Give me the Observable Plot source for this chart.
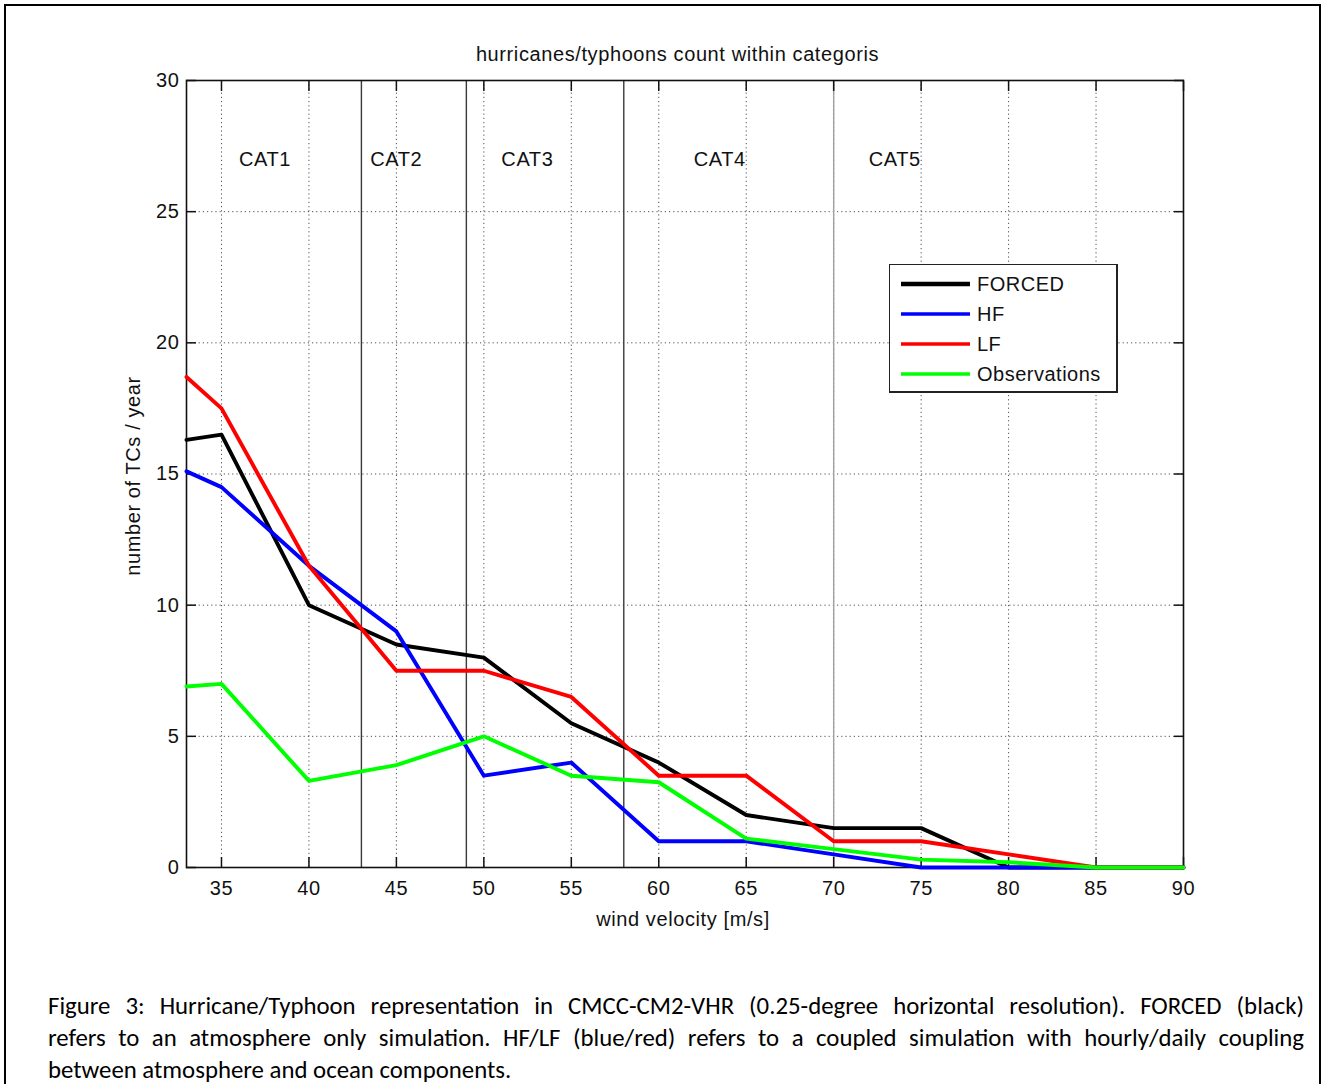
<!DOCTYPE html>
<html>
<head>
<meta charset="utf-8">
<script src="https://cdn.jsdelivr.net/npm/d3@7"></script>
<script src="https://cdn.jsdelivr.net/npm/@observablehq/plot@0.6"></script>
<style>
  html, body { margin: 0; padding: 0; background: #fff; }
  #page { position: relative; width: 1322px; height: 1084px; overflow: hidden; background: #fff; }
  #border { position: absolute; left: 4px; top: 4px; width: 1317px; height: 1100px; border: 2px solid #000; box-sizing: border-box; }
  #chart { position: absolute; left: 0; top: 0; }
  #title { position: absolute; left: 0; width: 1355px; top: 44px; text-align: center;
           font: 20px "Liberation Sans", Arial, sans-serif; letter-spacing: 0.6px; line-height: 20px; color: #111; }
  #legend { position: absolute; left: 889px; top: 264px; width: 229px; height: 129px; box-sizing: border-box;
            border: 1.5px solid #222; border-right-width: 2.5px; border-bottom-width: 2px; background: #fff;
            font: 20px "Liberation Sans", Arial, sans-serif; letter-spacing: 0.5px; color: #111; }
  .lrow { position: absolute; left: 11px; height: 30px; display: flex; align-items: center; }
  .lrow svg { margin-right: 7px; }
  #caption { position: absolute; left: 48px; top: 990px; width: 1256px;
             font: 24.8px Calibri, Carlito, Lato, sans-serif; color: #000; }
  .cline { height: 32px; line-height: 32px; text-align: justify; white-space: normal; }
  .cline.j { text-align-last: justify; }
</style>
</head>
<body>
<div id="page">
  <div id="border"></div>
  <div id="chart"></div>
  <div id="title"></div>
  <div id="legend"></div>
  <div id="caption"></div>
</div>
<script>
// ---- data ----
const windSpeed = [33, 35, 40, 45, 50, 55, 60, 65, 70, 75, 80, 85, 90];
const forced    = [16.3, 16.5, 10, 8.5, 8, 5.5, 4, 2, 1.5, 1.5, 0, 0, 0];
const hf        = [15.1, 14.5, 11.5, 9, 3.5, 4, 1, 1, 0.5, 0, 0, 0, 0];
const lf        = [18.7, 17.5, 11.5, 7.5, 7.5, 6.5, 3.5, 3.5, 1, 1, 0.5, 0, 0];
const observations = [6.9, 7, 3.3, 3.9, 5, 3.5, 3.25, 1.1, 0.7, 0.3, 0.2, 0, 0];

const seriesNames  = ["FORCED", "HF", "LF", "Observations"];
const seriesColors = ["#000000", "#0000ff", "#ff0000", "#00ff00"];

const xTicks = [35, 40, 45, 50, 55, 60, 65, 70, 75, 80, 85, 90];
const yTicks = [0, 5, 10, 15, 20, 25, 30];
const xDomain = [33, 90];
const yDomain = [0, 30];

const catBounds = [43, 49, 58, 70];
const catNames  = ["CAT1", "CAT2", "CAT3", "CAT4", "CAT5"];
const catTextX  = [36, 43.5, 51, 62, 72];
const catTextY  = 27;

const titleText  = "hurricanes/typhoons count within categoris";
const xLabelText = "wind velocity [m/s]";
const yLabelText = "number of TCs / year";
const captionLines = [
  "Figure 3: Hurricane/Typhoon representation in CMCC-CM2-VHR (0.25-degree horizontal resolution). FORCED (black)",
  "refers to an atmosphere only simulation. HF/LF (blue/red) refers to a coupled simulation with hourly/daily coupling",
  "between atmosphere and ocean components."
];

// ---- build tables ----
const allSeries = [forced, hf, lf, observations];
const rows = [];
allSeries.forEach((vals, s) => vals.forEach((v, i) => rows.push({series: seriesNames[s], x: windSpeed[i], y: v})));
const catLabels = catNames.map((n, i) => ({label: n, x: catTextX[i], y: catTextY}));

const colorOf = Object.fromEntries(seriesNames.map((n, i) => [n, seriesColors[i]]));

const chart = Plot.plot({
  width: 1322,
  height: 960,
  marginLeft: 186,
  marginRight: 139,
  marginTop: 80,
  marginBottom: 93,
  style: {fontFamily: "'Liberation Sans', Arial, sans-serif", fontSize: "20px", color: "#111", background: "transparent", letterSpacing: "0.6px"},
  x: {domain: xDomain, axis: null},
  y: {domain: yDomain, axis: null},
  marks: [
    Plot.gridX(xTicks, {stroke: "#333", strokeOpacity: 0.85, strokeDasharray: "1.2,3"}),
    Plot.gridY(yTicks, {stroke: "#333", strokeOpacity: 0.85, strokeDasharray: "1.2,3"}),
    Plot.ruleX(catBounds, {x: d => d, stroke: d => d === 70 ? "#a0a0a0" : "#3a3a3a", strokeWidth: 1.4}),
    Plot.frame({stroke: "#111", strokeWidth: 1.6}),
    // inward ticks on all four sides
    Plot.axisX(xTicks, {anchor: "bottom", tickSize: -10, tickFormat: () => "", label: null, strokeWidth: 1.5}),
    Plot.axisX(xTicks, {anchor: "top", tickSize: -10, tickFormat: () => "", label: null, strokeWidth: 1.5}),
    Plot.axisY(yTicks, {anchor: "left", tickSize: -10, tickFormat: () => "", label: null, strokeWidth: 1.5}),
    Plot.axisY(yTicks, {anchor: "right", tickSize: -10, tickFormat: () => "", label: null, strokeWidth: 1.5}),
    // tick labels
    Plot.axisX(xTicks, {anchor: "bottom", tickSize: 0, tickPadding: 13, label: null}),
    Plot.axisY(yTicks, {anchor: "left", tickSize: 0, tickPadding: 7, label: null}),
    // axis titles
    Plot.text([xLabelText], {text: d => d, frameAnchor: "bottom", lineAnchor: "middle", textAnchor: "middle", dy: 52, dx: -2}),
    Plot.text([yLabelText], {text: d => d, frameAnchor: "left", textAnchor: "middle", lineAnchor: "middle", rotate: -90, dx: -53, dy: 2}),
    // category labels
    Plot.text(catLabels, {x: "x", y: "y", text: "label", textAnchor: "start"}),
    // series
    Plot.line(rows, {x: "x", y: "y", z: "series", stroke: d => colorOf[d.series], strokeWidth: 3.9, strokeLinejoin: "round"})
  ]
});
document.getElementById("chart").appendChild(chart);

document.getElementById("title").textContent = titleText;

// legend
const legend = document.getElementById("legend");
seriesNames.forEach((name, i) => {
  const row = document.createElement("div");
  row.className = "lrow";
  row.style.top = (4 + i * 30) + "px";
  const sw = d3.create("svg").attr("width", 69).attr("height", 10);
  sw.append("line").attr("x1", 0).attr("x2", 69).attr("y1", 5).attr("y2", 5)
    .attr("stroke", seriesColors[i]).attr("stroke-width", i === 0 ? 4.5 : 3.5);
  row.appendChild(sw.node());
  const t = document.createElement("span");
  t.textContent = name;
  row.appendChild(t);
  legend.appendChild(row);
});

// caption
const cap = document.getElementById("caption");
captionLines.forEach((line, i) => {
  const d = document.createElement("div");
  d.className = "cline" + (i < captionLines.length - 1 ? " j" : "");
  d.textContent = line;
  cap.appendChild(d);
});
</script>
</body>
</html>
